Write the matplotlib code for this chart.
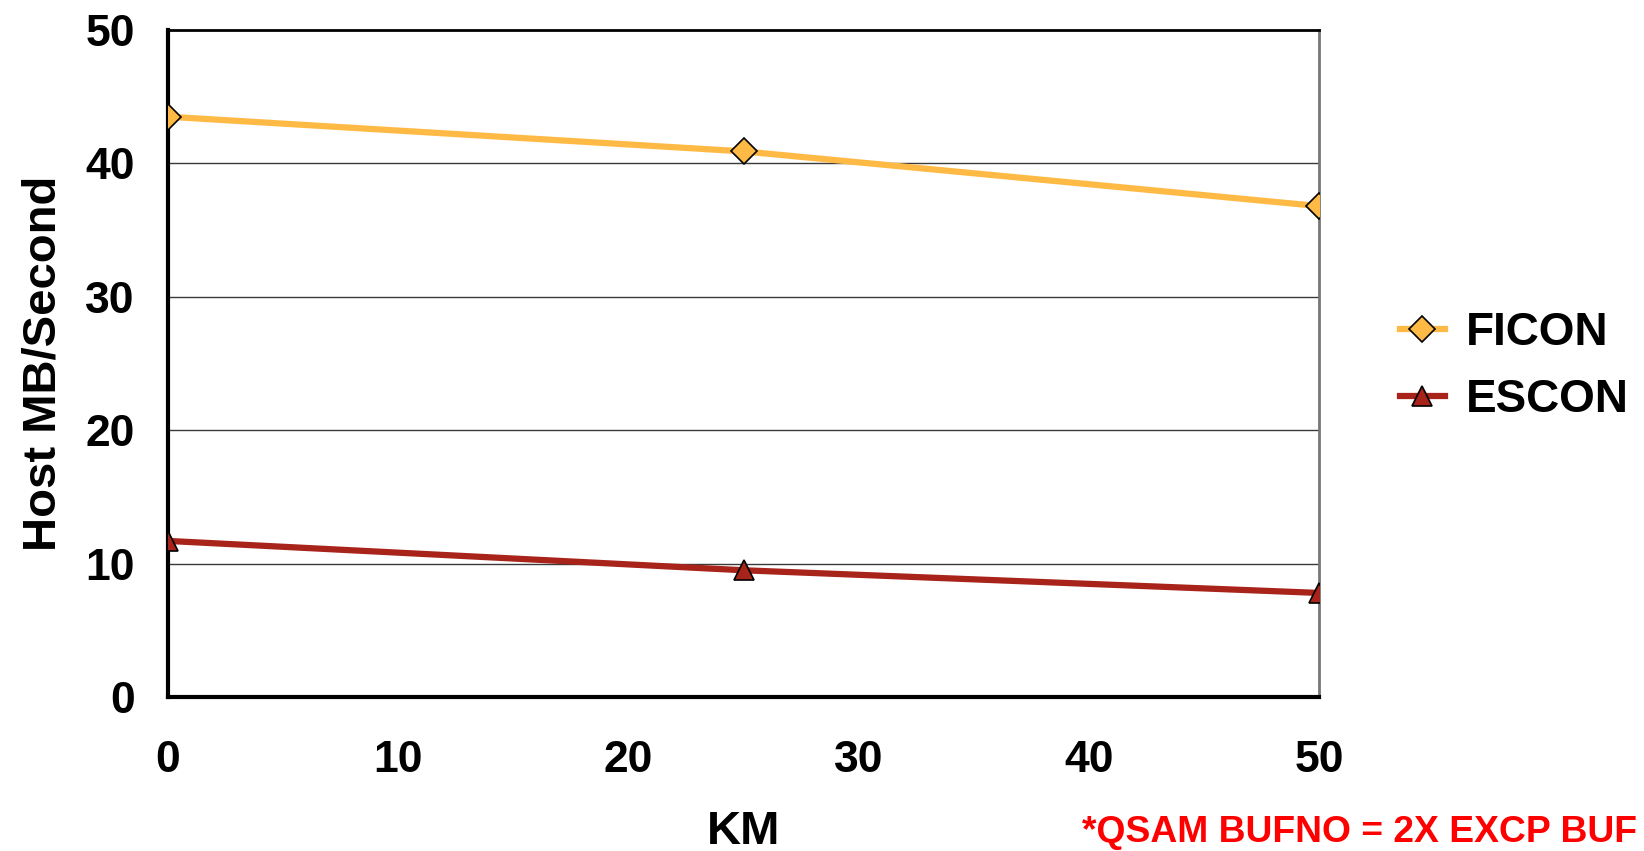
import numpy as np
import matplotlib.pyplot as plt

plt.rcParams['font.family'] = ['Liberation Sans', 'DejaVu Sans']
plt.rcParams['font.weight'] = 'bold'

km = [0, 25, 50]
ficon = [43.5, 40.9, 36.8]
escon = [11.7, 9.5, 7.8]
x_ticks = [0, 10, 20, 30, 40, 50]
y_ticks = [0, 10, 20, 30, 40, 50]

fig = plt.figure(figsize=(16.44, 8.51), dpi=100)
ax = fig.add_axes([168 / 1644, 1 - 697 / 851, (1319 - 168) / 1644, (697 - 30) / 851])

ax.plot(km, ficon, color='#FFBA45', lw=4.5, marker='D', ms=13,
        mfc='#FFBA45', mec='black', mew=1.2, label='FICON', zorder=3)
ax.plot(km, escon, color='#A8231A', lw=4.5, marker='^', ms=15,
        mfc='#A8231A', mec='black', mew=1.2, label='ESCON', zorder=3)

ax.set_xlim(0, 50)
ax.set_ylim(0, 50)
ax.set_xticks(x_ticks)
ax.set_yticks(y_ticks)
ax.tick_params(length=0, labelsize=32)
ax.tick_params(axis='x', pad=31)
ax.tick_params(axis='y', pad=24)
for lab in ax.get_xticklabels() + ax.get_yticklabels():
    lab.set_fontweight('bold')

# horizontal gridlines only
for v in y_ticks[1:-1]:
    ax.axhline(v, color='#3a3a3a', lw=1.0, zorder=1)

ax.spines['left'].set_linewidth(3)
ax.spines['bottom'].set_linewidth(3)
ax.spines['top'].set_linewidth(2)
ax.spines['right'].set_color('#777777')
ax.spines['right'].set_linewidth(2)

ax.set_xlabel('KM', fontsize=34, fontweight='bold', labelpad=21)
ax.set_ylabel('Host MB/Second', fontsize=34, fontweight='bold', labelpad=14)

leg = ax.legend(loc='center left', bbox_to_anchor=(1.07, 0.496), frameon=False,
                fontsize=33, handlelength=1.0, handletextpad=0.45, labelspacing=0.5,
                borderpad=0, borderaxespad=0)
for t in leg.get_texts():
    t.set_fontweight('bold')

fig.text(1082 / 1644, 1 - 833 / 851, '*QSAM BUFNO = 2X EXCP BUF', color='#FF0000',
         fontsize=26.8, fontweight='bold', va='center', ha='left')

fig.savefig('out.png', dpi=100)
